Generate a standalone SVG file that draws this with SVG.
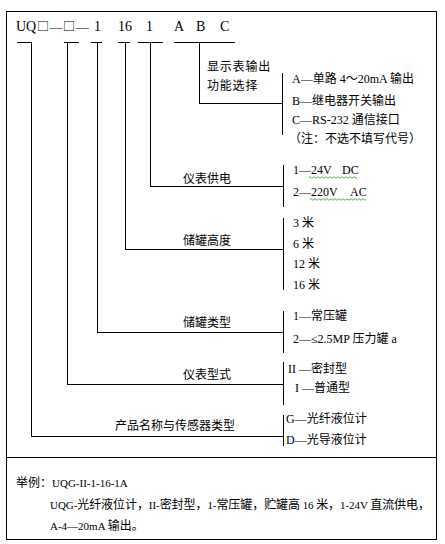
<svg xmlns="http://www.w3.org/2000/svg" width="445" height="544" viewBox="0 0 445 544">
<style>
.ln{stroke:#000;stroke-width:1;fill:none;shape-rendering:crispEdges}
text{font-family:"Liberation Serif","Noto Sans CJK SC",serif;font-size:12px;fill:#000}
.cn{font-family:"Noto Sans CJK SC","Liberation Sans",sans-serif}
.t{font-size:14px}
.sq{font-size:12px}
.dh{font-size:13px}
.sm{font-size:11px}
.wv{stroke:#3a9a3a;stroke-width:0.8;fill:none}
</style>
<rect x="0" y="0" width="445" height="544" fill="#fff"/>
<rect class="ln" x="6.5" y="11.5" width="430" height="528"/>
<line class="ln" x1="6" y1="457.5" x2="437" y2="457.5"/>

<g id="title">
<text class="t" y="31">
<tspan x="16">UQ</tspan><tspan x="37" class="cn sq">□</tspan><tspan x="49.5" class="dh">—</tspan><tspan x="63" class="cn sq">□</tspan><tspan x="76" class="dh">—</tspan><tspan x="94">1</tspan><tspan x="118">16</tspan><tspan x="146">1</tspan><tspan x="174">A</tspan><tspan x="196">B</tspan><tspan x="220">C</tspan>
</text>
</g>

<g id="connectors">
<line class="ln" x1="17" y1="42.5" x2="32" y2="42.5"/>
<line class="ln" x1="64" y1="42.5" x2="79" y2="42.5"/>
<line class="ln" x1="91" y1="42.5" x2="102" y2="42.5"/>
<line class="ln" x1="118" y1="42.5" x2="130" y2="42.5"/>
<line class="ln" x1="138" y1="42.5" x2="163" y2="42.5"/>
<line class="ln" x1="174" y1="42.5" x2="235" y2="42.5"/>
<polyline class="ln" points="199.5,42 199.5,103.5 282,103.5"/>
<polyline class="ln" points="150.5,42 150.5,186.5 283,186.5"/>
<polyline class="ln" points="125.5,42 125.5,249.5 283,249.5"/>
<polyline class="ln" points="97.5,42 97.5,332.5 283,332.5"/>
<polyline class="ln" points="67.5,42 67.5,384.5 283,384.5"/>
<polyline class="ln" points="31.5,42 31.5,436.5 283,436.5"/>
</g>

<g id="display-output">
<text class="cn" x="207" y="71" letter-spacing="0.8">显示表输出</text>
<text class="cn" x="207" y="90" letter-spacing="0.8">功能选择</text>
<line class="ln" x1="282.5" y1="73" x2="282.5" y2="135"/>
<text x="292" y="83">A—<tspan class="cn">单路</tspan> 4～20mA <tspan class="cn">输出</tspan></text>
<text x="292" y="105">B—<tspan class="cn">继电器开关输出</tspan></text>
<text x="292" y="124">C—RS-232 <tspan class="cn">通信接口</tspan></text>
<text class="cn" x="289" y="143">（注：不选不填写代号）</text>
</g>

<g id="power">
<text class="cn" x="183" y="183">仪表供电</text>
<line class="ln" x1="283.5" y1="165" x2="283.5" y2="207"/>
<text x="293" y="174">1—24V<tspan x="342">DC</tspan></text>
<text x="293" y="196">2—220V<tspan x="350">AC</tspan></text>
<path class="wv" d="M309,177.5 q1,-1.5 2,0 t2,0 t2,0 t2,0 t2,0 t2,0 t2,0 t2,0 t2,0 t2,0 t2,0 t2,0 t2,0 t2,0 t2,0 t2,0 t2,0 t2,0 t2,0 t2,0 t2,0 t2,0 t2,0 t2,0"/>
<path class="wv" d="M310,199.5 q1,-1.5 2,0 t2,0 t2,0 t2,0 t2,0 t2,0 t2,0 t2,0 t2,0 t2,0 t2,0 t2,0 t2,0 t2,0 t2,0 t2,0 t2,0 t2,0 t2,0 t2,0 t2,0 t2,0 t2,0 t2,0 t2,0 t2,0 t2,0 t2,0"/>
</g>

<g id="tank-height">
<text class="cn" x="183" y="245">储罐高度</text>
<line class="ln" x1="283.5" y1="218" x2="283.5" y2="290"/>
<text x="293" y="227">3 <tspan class="cn">米</tspan></text>
<text x="293" y="248">6 <tspan class="cn">米</tspan></text>
<text x="293" y="268">12 <tspan class="cn">米</tspan></text>
<text x="293" y="289">16 <tspan class="cn">米</tspan></text>
</g>

<g id="tank-type">
<text class="cn" x="183" y="327">储罐类型</text>
<line class="ln" x1="283.5" y1="311" x2="283.5" y2="353"/>
<text x="293" y="320">1—<tspan class="cn">常压罐</tspan></text>
<text x="293" y="343">2—≤2.5MP <tspan class="cn">压力罐</tspan> a</text>
</g>

<g id="instrument-type">
<text class="cn" x="183" y="379">仪表型式</text>
<line class="ln" x1="283.5" y1="362" x2="283.5" y2="405"/>
<text x="288" y="373">II —<tspan class="cn">密封型</tspan></text>
<text x="295" y="392">I —<tspan class="cn">普通型</tspan></text>
</g>

<g id="product-name">
<text class="cn" x="115" y="430">产品名称与传感器类型</text>
<line class="ln" x1="283.5" y1="415" x2="283.5" y2="446"/>
<text x="286" y="423">G—<tspan class="cn">光纤液位计</tspan></text>
<text x="286" y="444">D—<tspan class="cn">光导液位计</tspan></text>
</g>

<g id="example">
<text x="16" y="487"><tspan class="cn">举例：</tspan><tspan class="sm">UQG-II-1-16-1A</tspan></text>
<text x="50" y="509" textLength="380" lengthAdjust="spacing"><tspan class="sm">UQG-</tspan><tspan class="cn">光纤液位计，</tspan><tspan class="sm">II-</tspan><tspan class="cn">密封型，</tspan><tspan class="sm">1-</tspan><tspan class="cn">常压罐，贮罐高</tspan><tspan class="sm"> 16 </tspan><tspan class="cn">米，</tspan><tspan class="sm">1-24V </tspan><tspan class="cn">直流供电，</tspan></text>
<text x="50" y="530"><tspan class="sm">A-4—20mA </tspan><tspan class="cn">输出。</tspan></text>
</g>
</svg>
